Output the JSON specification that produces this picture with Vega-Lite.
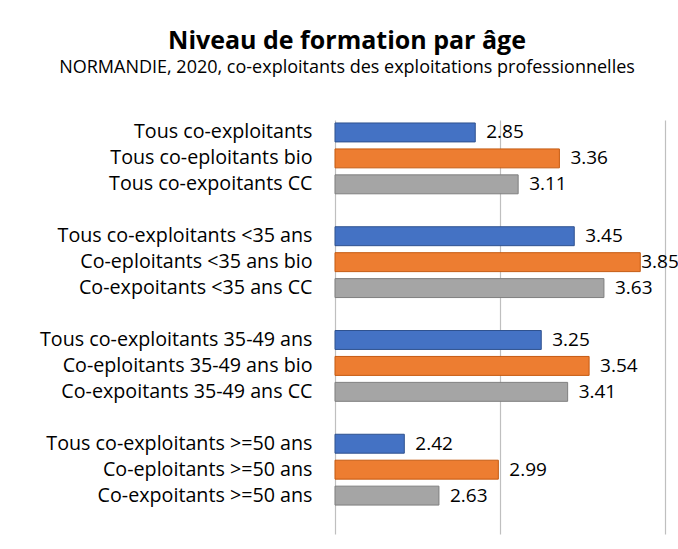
{
  "$schema": "https://vega.github.io/schema/vega-lite/v6.json",
  "width": 330,
  "height": 414,
  "autosize": {"type": "none"},
  "padding": {"left": 335, "top": 120, "right": 13, "bottom": 15},
  "background": "white",
  "title": {
    "text": "Niveau de formation par âge",
    "subtitle": "NORMANDIE, 2020, co-exploitants des exploitations professionnelles",
    "anchor": "middle",
    "dx": -153,
    "font": "Open Sans",
    "fontSize": 25,
    "fontWeight": "bold",
    "color": "#000000",
    "subtitleFont": "Open Sans",
    "subtitleFontSize": 18,
    "subtitleColor": "#000000",
    "subtitlePadding": 5,
    "offset": 43
  },
  "config": {"view": {"stroke": null}},
  "data": {
    "values": [
      {"label": "Tous co-exploitants", "type": "all", "value": 2.85},
      {"label": "Tous co-eploitants bio", "type": "bio", "value": 3.36},
      {"label": "Tous co-expoitants CC", "type": "CC", "value": 3.11},
      {"label": "Tous co-exploitants <35 ans", "type": "all", "value": 3.45},
      {"label": "Co-eploitants <35 ans bio", "type": "bio", "value": 3.85},
      {"label": "Co-expoitants <35 ans CC", "type": "CC", "value": 3.63},
      {"label": "Tous co-exploitants 35-49 ans", "type": "all", "value": 3.25},
      {"label": "Co-eploitants 35-49 ans bio", "type": "bio", "value": 3.54},
      {"label": "Co-expoitants 35-49 ans CC", "type": "CC", "value": 3.41},
      {"label": "Tous co-exploitants >=50 ans", "type": "all", "value": 2.42},
      {"label": "Co-eploitants >=50 ans", "type": "bio", "value": 2.99},
      {"label": "Co-expoitants >=50 ans", "type": "CC", "value": 2.63}
    ]
  },
  "encoding": {
    "y": {
      "field": "label",
      "type": "nominal",
      "sort": null,
      "scale": {
        "domain": [
          "Tous co-exploitants", "Tous co-eploitants bio", "Tous co-expoitants CC", " ",
          "Tous co-exploitants <35 ans", "Co-eploitants <35 ans bio", "Co-expoitants <35 ans CC", "  ",
          "Tous co-exploitants 35-49 ans", "Co-eploitants 35-49 ans bio", "Co-expoitants 35-49 ans CC", "   ",
          "Tous co-exploitants >=50 ans", "Co-eploitants >=50 ans", "Co-expoitants >=50 ans", "    "
        ],
        "paddingInner": 0.27,
        "paddingOuter": 0.115
      },
      "axis": {
        "title": null,
        "domain": false,
        "ticks": false,
        "labelPadding": 23,
        "labelFont": "Open Sans",
        "labelFontSize": 19.7,
        "labelColor": "#000000",
        "labelLimit": 400
      }
    }
  },
  "layer": [
    {
      "mark": {"type": "bar", "strokeWidth": 1},
      "encoding": {
        "x": {
          "field": "value",
          "type": "quantitative",
          "scale": {"domain": [2, 4], "zero": false, "nice": false},
          "axis": {
            "title": null,
            "values": [2, 3, 4],
            "labels": false,
            "ticks": false,
            "domain": false,
            "grid": true,
            "gridColor": "#BFBFBF",
            "gridWidth": 1.2
          }
        },
        "x2": {"datum": 2},
        "color": {
          "field": "type",
          "type": "nominal",
          "scale": {"domain": ["all", "bio", "CC"], "range": ["#4472C4", "#ED7D31", "#A5A5A5"]},
          "legend": null
        },
        "stroke": {
          "field": "type",
          "type": "nominal",
          "scale": {"domain": ["all", "bio", "CC"], "range": ["#2F528F", "#C55A11", "#7F7F7F"]},
          "legend": null
        }
      }
    },
    {
      "transform": [{"filter": "datum.value < 3.8"}],
      "mark": {"type": "text", "align": "left", "baseline": "middle", "dx": 11, "font": "Open Sans", "fontSize": 19, "color": "#000000"},
      "encoding": {
        "x": {"field": "value", "type": "quantitative"},
        "text": {"field": "value", "type": "quantitative", "format": ".2f"}
      }
    },
    {
      "transform": [{"filter": "datum.value >= 3.8"}],
      "mark": {"type": "text", "align": "left", "baseline": "middle", "dx": 1, "font": "Open Sans", "fontSize": 19, "color": "#000000"},
      "encoding": {
        "x": {"field": "value", "type": "quantitative"},
        "text": {"field": "value", "type": "quantitative", "format": ".2f"}
      }
    }
  ]
}
